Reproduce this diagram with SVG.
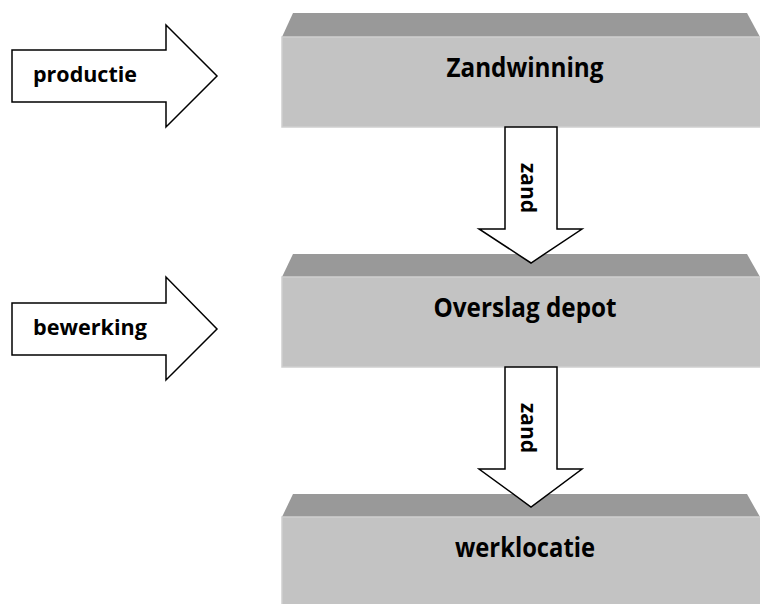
<svg xmlns="http://www.w3.org/2000/svg" width="760" height="604" viewBox="0 0 760 604">
<defs>
<style>
.bev{fill:#999999;}
.face{fill:#c3c3c3;stroke:#cfcfcf;stroke-width:1.5;}
.arr{fill:#ffffff;stroke:#000000;stroke-width:1.5;stroke-linejoin:miter;}
.t{font-family:"Open Sans","Liberation Sans",sans-serif;font-weight:bold;fill:#000000;}
.bt{font-size:26px;text-anchor:middle;}
.at{font-size:21px;}
</style>
</defs>
<rect width="760" height="604" fill="#ffffff"/>
<g id="node-zandwinning">
<polygon class="bev" points="293,13 747,13 760,37 282,37"/>
<rect class="face" x="282" y="37" width="480" height="90"/>
<text class="t bt" x="525" y="77" textLength="157" lengthAdjust="spacingAndGlyphs">Zandwinning</text>
</g>
<g id="node-overslag">
<polygon class="bev" points="293,254 747,254 760,277 282,277"/>
<rect class="face" x="282" y="277" width="480" height="90"/>
<text class="t bt" x="525" y="317" textLength="183" lengthAdjust="spacingAndGlyphs">Overslag depot</text>
</g>
<g id="node-werklocatie">
<polygon class="bev" points="293,494 747,494 760,517 282,517"/>
<rect class="face" x="282" y="517" width="480" height="90"/>
<text class="t bt" x="525" y="557" textLength="140" lengthAdjust="spacingAndGlyphs">werklocatie</text>
</g>
<g id="node-productie">
<polygon class="arr" points="12,50 166,50 166,25 217,76 166,127 166,102 12,102"/>
<text class="t at" x="33" y="82" textLength="104" lengthAdjust="spacingAndGlyphs">productie</text>
</g>
<g id="node-bewerking">
<polygon class="arr" points="12,303 166,303 166,277 217,329 166,380 166,355 12,355"/>
<text class="t at" x="33" y="335" textLength="114" lengthAdjust="spacingAndGlyphs">bewerking</text>
</g>
<g id="connectors">
<g id="conn-zand-1">
<polygon class="arr" points="505,127 557,127 557,229 582,229 531,263 479,229 505,229"/>
<text class="t at" transform="translate(521,188) rotate(90)" text-anchor="middle" textLength="50" lengthAdjust="spacingAndGlyphs">zand</text>
</g>
<g id="conn-zand-2">
<polygon class="arr" points="505,367 557,367 557,469 582,469 531,507 479,469 505,469"/>
<text class="t at" transform="translate(521,428) rotate(90)" text-anchor="middle" textLength="50" lengthAdjust="spacingAndGlyphs">zand</text>
</g>
</g>
</svg>
